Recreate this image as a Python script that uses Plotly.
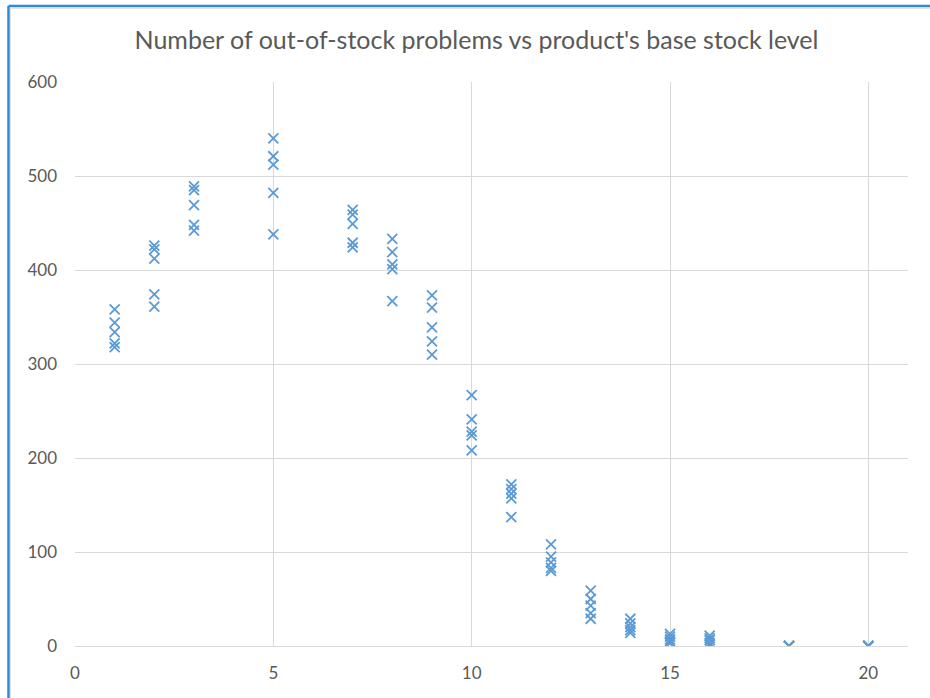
import plotly.graph_objects as go

# Base stock level and the out-of-stock count observed in each of five runs
stock_levels = [1, 2, 3, 5, 7, 8, 9, 10, 11, 12, 13, 14, 15, 16, 18, 20]
problem_counts = [
    [358, 344, 334, 322, 318],
    [426, 422, 412, 374, 361],
    [489, 485, 469, 448, 442],
    [540, 521, 512, 482, 438],
    [464, 459, 449, 429, 424],
    [433, 419, 406, 401, 367],
    [373, 360, 339, 324, 310],
    [267, 241, 228, 224, 208],
    [172, 167, 162, 157, 137],
    [108, 95, 89, 83, 80],
    [59, 50, 43, 35, 29],
    [29, 24, 20, 17, 14],
    [13, 10, 7, 5, 3],
    [11, 8, 6, 3, 1],
    [0, 0, 0, 0, 0],
    [0, 0, 0, 0, 0],
]
x_ticks = [0, 5, 10, 15, 20]
y_ticks = [0, 100, 200, 300, 400, 500, 600]
title_text = "Number of out-of-stock problems vs product's base stock level"

xs, ys = [], []
for level, counts in zip(stock_levels, problem_counts):
    for c in counts:
        xs.append(level)
        ys.append(c)

W, H = 930, 698
ML, MR, MT, MB = 75, 22, 82, 52
PW, PH = W - ML - MR, H - MT - MB

fig = go.Figure(
    go.Scatter(
        x=xs, y=ys, mode="markers",
        marker=dict(symbol="x-thin", size=10, color="#5B9BD5",
                    line=dict(width=1.8, color="#5B9BD5")),
        showlegend=False, hoverinfo="x+y",
    )
)

grid = "#D9D9D9"
tick_font = dict(family="Lato, Open Sans, sans-serif", size=17, color="#595959")

fig.update_layout(
    width=W, height=H,
    margin=dict(l=ML, r=MR, t=MT, b=MB),
    paper_bgcolor="white", plot_bgcolor="white",
    title=dict(text=title_text, x=476.5 / W, xanchor="center", xref="container",
               y=1 - 40 / H, yanchor="middle",
               font=dict(family="Lato, Open Sans, sans-serif", size=25, color="#595959")),
    xaxis=dict(range=[0, 21], tickvals=x_ticks, showgrid=True, gridcolor=grid, gridwidth=1,
               zeroline=False, showline=True, linecolor=grid, linewidth=1,
               ticks="", tickfont=tick_font, ticklabelstandoff=12),
    yaxis=dict(range=[0, 600], tickvals=y_ticks, showgrid=True, gridcolor=grid, gridwidth=1,
               zeroline=False, showline=False, ticks="", tickfont=tick_font,
               ticklabelstandoff=17),
)

# Selection frame around the chart (left and top edges visible)
def px_x(p):
    return (p - ML) / PW

def px_y(p):
    return (H - MB - p) / PH

frame = "#2E8BD6"
fig.add_shape(type="line", xref="paper", yref="paper",
              x0=px_x(8.5), x1=px_x(940), y0=px_y(6), y1=px_y(6),
              line=dict(color=frame, width=2.5))
fig.add_shape(type="line", xref="paper", yref="paper",
              x0=px_x(8.5), x1=px_x(8.5), y0=px_y(6), y1=px_y(710),
              line=dict(color=frame, width=2.5))
fig.add_shape(type="line", xref="paper", yref="paper",
              x0=px_x(10.5), x1=px_x(940), y0=px_y(8.5), y1=px_y(8.5),
              line=dict(color="#E3E3E3", width=1))
fig.add_shape(type="line", xref="paper", yref="paper",
              x0=px_x(10.5), x1=px_x(10.5), y0=px_y(8.5), y1=px_y(710),
              line=dict(color="#E3E3E3", width=1))

fig.write_html("out.html")
